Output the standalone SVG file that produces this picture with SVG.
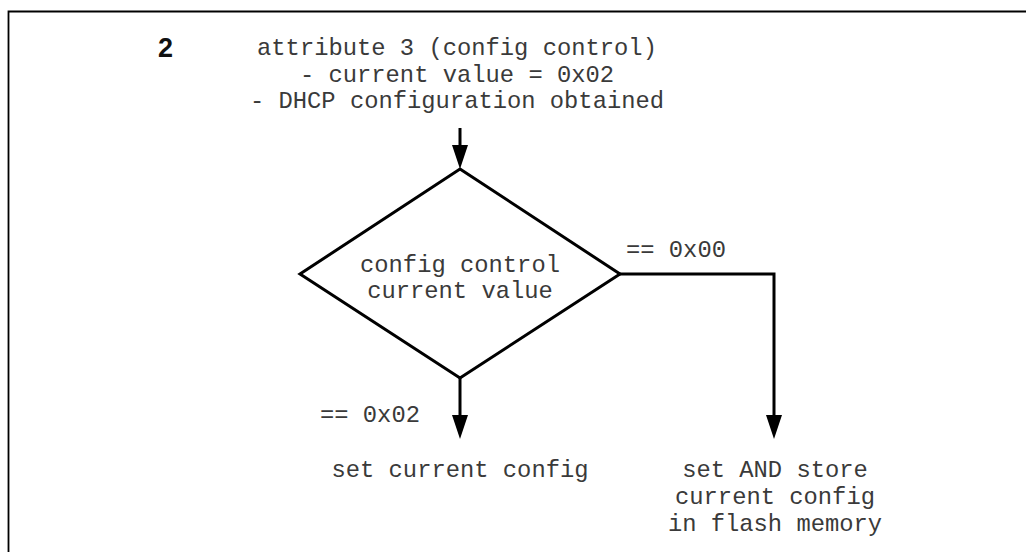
<svg xmlns="http://www.w3.org/2000/svg" width="1026" height="552" viewBox="0 0 1026 552">
<style>
.t{font-family:"Liberation Mono","Courier New",monospace;font-size:23.8px;fill:#3a3a3a;text-anchor:middle}
.l{font-family:"Liberation Mono","Courier New",monospace;font-size:23.8px;fill:#3a3a3a}
.c{fill:none;stroke:#000;stroke-width:3}
</style>
<rect width="1026" height="552" fill="#fff"/>
<path d="M8.5,552 V11.5 H1026" fill="none" stroke="#000" stroke-width="1.8"/>
<g id="label2"><text x="158" y="57" font-family="Liberation Sans,Arial,sans-serif" font-weight="bold" font-size="27" fill="#111">2</text></g>
<g id="start">
<text class="t" x="457" y="55">attribute 3 (config control)</text>
<text class="t" x="457" y="82">- current value = 0x02</text>
<text class="t" x="457" y="108">- DHCP configuration obtained</text>
</g>
<g id="decision">
<polygon points="460,169 620,274 460,378 300,274" fill="#fff" stroke="#000" stroke-width="3"/>
<text class="t" x="460" y="272">config control</text>
<text class="t" x="460" y="298">current value</text>
</g>
<g id="setcfg"><text class="t" x="460" y="477">set current config</text></g>
<g id="setstore">
<text class="t" x="775" y="477">set AND store</text>
<text class="t" x="775" y="504">current config</text>
<text class="t" x="775" y="531">in flash memory</text>
</g>
<g id="connectors">
<line class="c" x1="460" y1="128" x2="460" y2="148"/>
<path d="M452,145 L468,145 L460,169 Z"/>
<line class="c" x1="460" y1="378" x2="460" y2="418"/>
<path d="M452,415 L468,415 L460,439 Z"/>
<path class="c" d="M620,274 H774 V418" stroke-linejoin="miter"/>
<path d="M766,415 L782,415 L774,439 Z"/>
<text class="l" x="626" y="257">== 0x00</text>
<text class="l" x="320" y="422">== 0x02</text>
</g>
</svg>
